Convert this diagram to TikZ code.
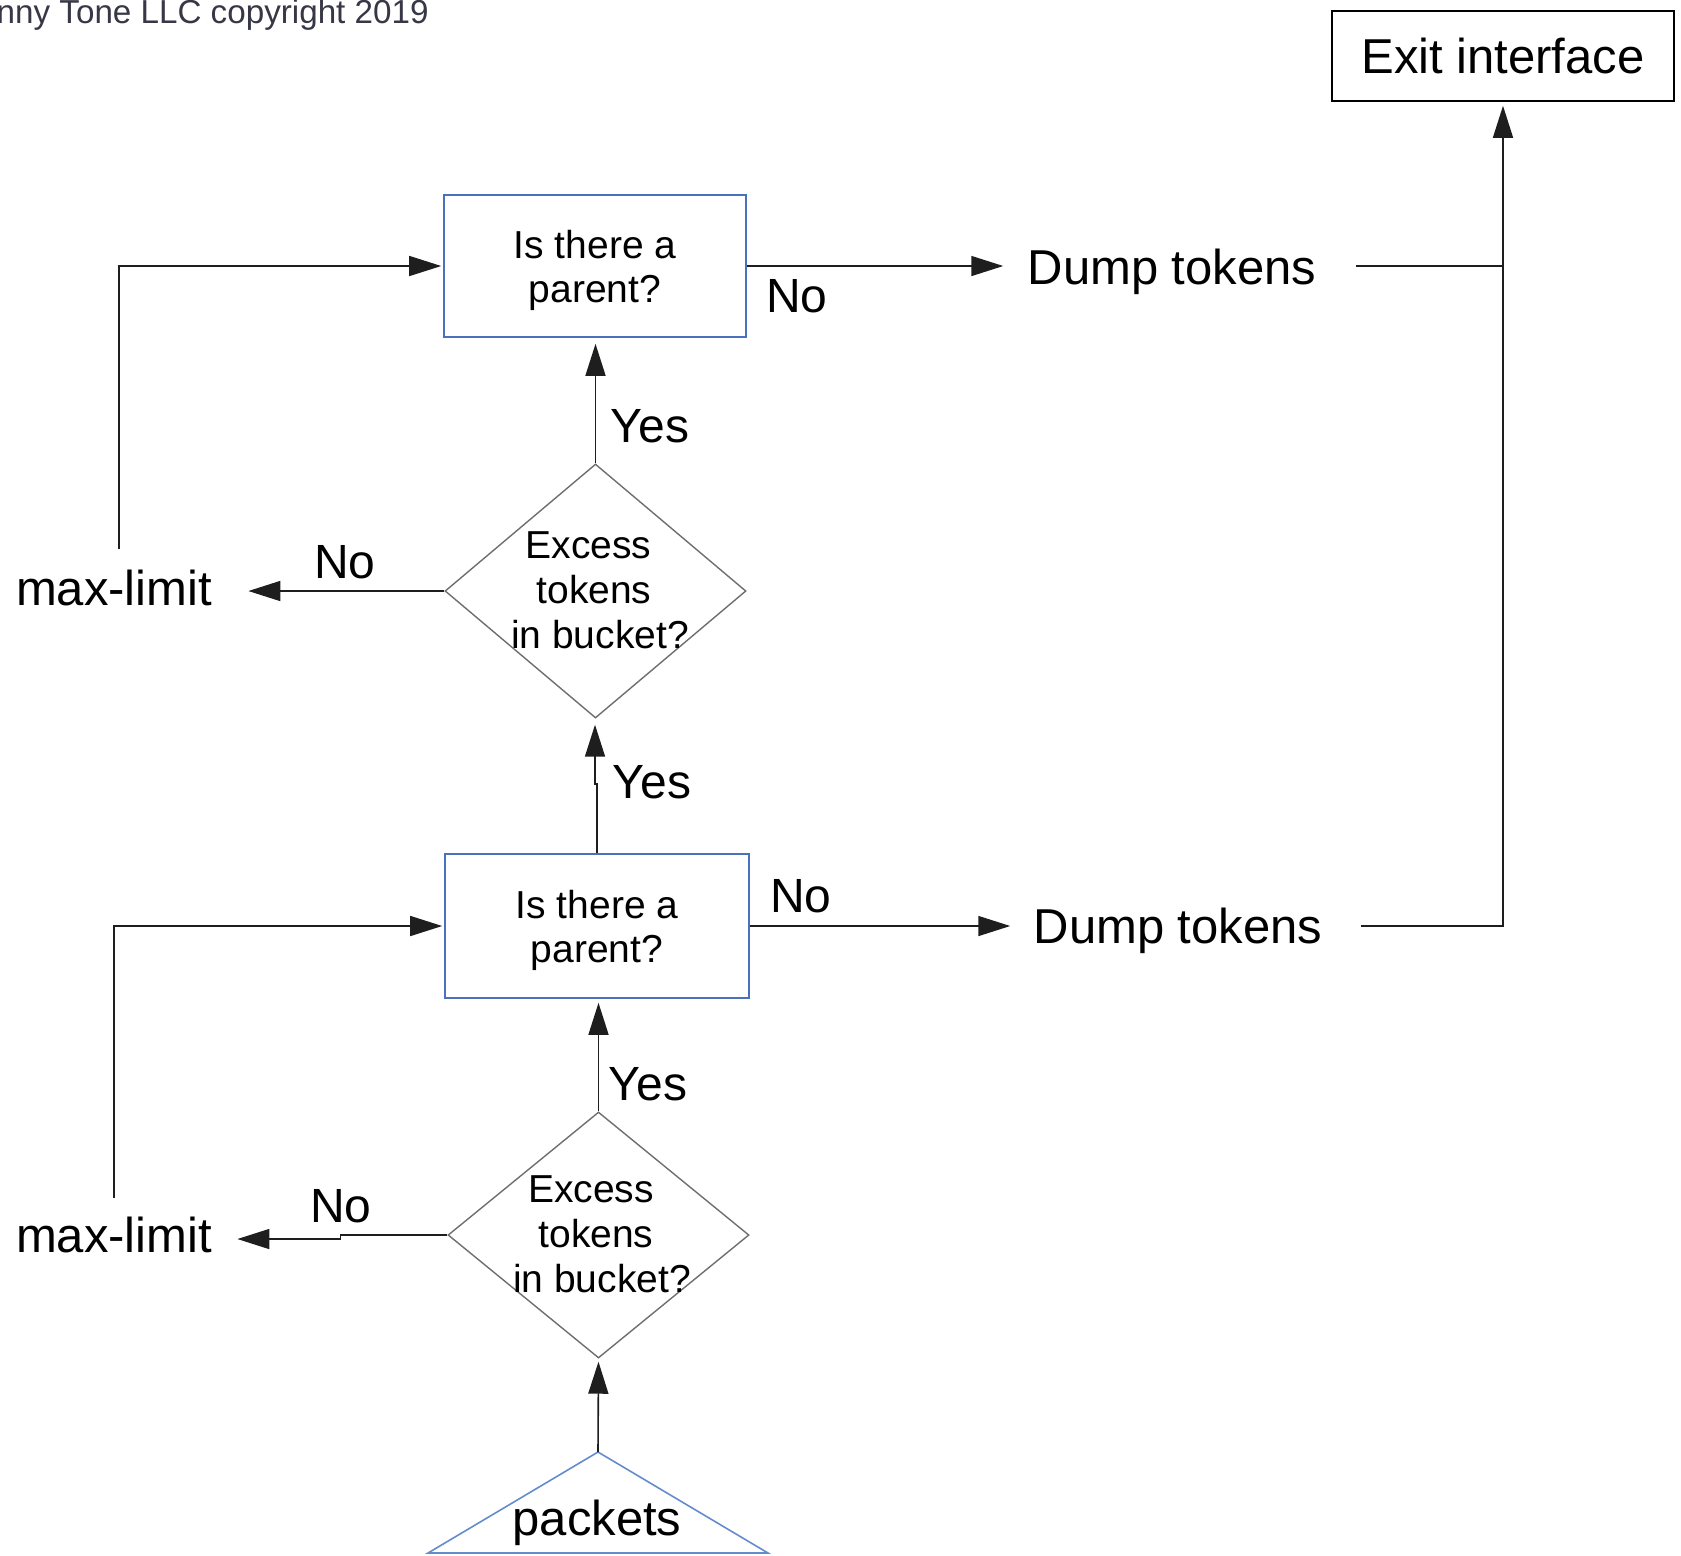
\documentclass[tikz,border=0pt]{standalone}
\usepackage{fontspec}
\setmainfont{Liberation Sans}
\usetikzlibrary{arrows.meta,shapes.geometric}
\definecolor{boxblue}{RGB}{72,114,190}
\definecolor{triblue}{RGB}{100,140,205}
\definecolor{linegray}{RGB}{30,30,30}
\definecolor{diagray}{RGB}{110,110,110}
\definecolor{notegray}{RGB}{55,55,70}

\begin{document}
\begin{tikzpicture}[x=0.5pt,y=-0.5pt,
  conn/.style={draw=linegray, line width=0.8pt},
  arr/.style={conn, -{Triangle[length=16pt,width=10pt]}},
  qbox/.style={draw=boxblue, line width=0.8pt, rectangle, minimum width=151pt,
    minimum height=71pt, inner sep=0pt},
  boxtext/.style={align=center, inner sep=0pt,
    font=\fontsize{19.5pt}{22pt}\selectfont},
  dia/.style={draw=diagray, line width=0.7pt, diamond, minimum width=150.5pt,
    minimum height=127pt, inner sep=0pt},
  diatext/.style={align=center, inner sep=0pt,
    font=\fontsize{19.5pt}{22.5pt}\selectfont},
  big/.style={font=\fontsize{24.5pt}{28pt}\selectfont, inner sep=0pt},
  lbl/.style={font=\fontsize{24pt}{28pt}\selectfont, inner sep=0pt},
]
\useasboundingbox (0,0) rectangle (1681,1555);

% copyright line
\node[font=\fontsize{16.6pt}{18pt}\selectfont, text=notegray, anchor=base east,
  inner sep=0pt] (note) at (429,23) {nny Tone LLC copyright 2019};

% exit
\node[draw=black, line width=0.8pt, minimum width=171pt, minimum height=45pt,
  big] (exit) at (1503,56) {Exit interface};

% decision boxes
\node[qbox] (b1) at (595,266) {};
\node[boxtext] (b1t) at ([yshift=-2pt]b1.center) {Is there a\\parent?};
\node[qbox, minimum width=152pt, minimum height=72pt] (b2) at (597,926) {};
\node[boxtext] (b2t) at ([yshift=-2pt]b2.center) {Is there a\\parent?};

\node[dia] (d1) at (595.5,591) {};
\node[diatext] (d1t) at (594,590.5) {Excess\hspace*{5.5pt}\\tokens\\\hspace*{6pt}in bucket?};
\node[dia, minimum height=123pt] (d2) at (598.5,1235) {};
\node[diatext] (d2t) at (596,1234) {Excess\hspace*{5pt}\\tokens\\\hspace*{6pt}in bucket?};

% outcomes
\node[big, anchor=base] (dt1) at (1172,284) {Dump tokens};
\node[big, anchor=base] (dt2) at (1178,943) {Dump tokens};
\node[big, anchor=base] (ml1) at (114,605) {max-limit};
\node[big, anchor=base] (ml2) at (114,1252) {max-limit};

% source
\draw[draw=triblue, line width=0.8pt] (598,1452) coordinate (src) -- (768,1553) -- (428,1553) -- cycle;
\node[big, anchor=base] (pk) at (597,1535) {packets};

% labels
\node[lbl] (no1) at (797,296) {No};
\node[lbl] (yes1) at (650,426) {Yes};
\node[lbl] (no2) at (345,562) {No};
\node[lbl] (yes2) at (652,782) {Yes};
\node[lbl] (no3) at (801,896) {No};
\node[lbl] (yes3) at (648,1084) {Yes};
\node[lbl] (no4) at (341,1206) {No};

% main chain
\draw[arr, shorten >=1.5pt] (src) -- (d2.south);
\draw[arr, shorten >=2pt] (d2.north) -- (d2.north |- b2.south);
\draw[arr, shorten >=3pt] (b2.north) -- ++(0,-69) -- ++(-2,0) coordinate (j1) -- (j1 |- d1.south);
\draw[arr, shorten >=3pt] (d1.north) -- (d1.north |- b1.south);

% "No" to max-limit
\draw[arr, shorten >=18pt] (d1.west) -- (d1.west -| ml1.east);
\draw[arr, shorten >=12.5pt] (d2.west) -- ++(-107,0) -- ++(0,4) coordinate (j2) -- (j2 -| ml2.east);

% max-limit loops back
\draw[arr, shorten <=10pt, shorten >=1pt] ([xshift=2.5pt]ml1.north) |- (b1.west);
\draw[arr, shorten <=9pt, shorten >=1pt] (ml2.north) |- (b2.west);

% "No" to dump tokens
\draw[arr, shorten >=12pt] (b1.east) -- (b1.east -| dt1.west);
\draw[arr, shorten >=11.5pt] (b2.east) -- (b2.east -| dt2.west);

% dump tokens to exit
\draw[conn, shorten <=19.5pt] (dt1.east |- b1.east) -- (b1.east -| exit.south);
\draw[arr, shorten <=19pt, shorten >=2pt] (dt2.east |- b2.east) -| (exit.south);

\end{tikzpicture}
\end{document}
